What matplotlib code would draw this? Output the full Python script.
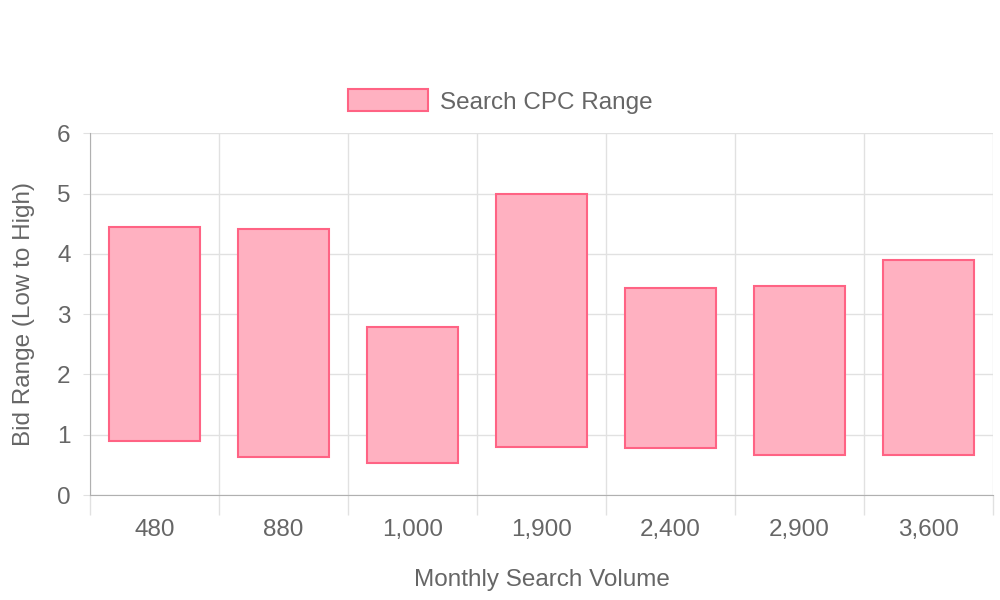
import matplotlib
matplotlib.use("Agg")
from matplotlib import pyplot as plt
from matplotlib.patches import Patch
import numpy as np

plt.rcParams['font.family'] = ['Liberation Sans', 'DejaVu Sans']

volumes = ["480", "880", "1,000", "1,900", "2,400", "2,900", "3,600"]
cpc_low = [0.90, 0.63, 0.53, 0.80, 0.78, 0.66, 0.66]
cpc_high = [4.44, 4.41, 2.79, 5.00, 3.43, 3.47, 3.90]

fill_col = "#FFB1C1"
edge_col = "#FF6384"
text_col = "#666666"
grid_col = "#E1E1E1"
fs = 17.5

fig = plt.figure(figsize=(10, 6), dpi=100)
ax = fig.add_axes([0.09, 0.175, 0.903, 0.603])

x = np.arange(len(volumes))
heights = np.array(cpc_high) - np.array(cpc_low)
ax.bar(x, heights, bottom=cpc_low, width=0.71, color=fill_col,
       edgecolor=edge_col, linewidth=1.5, zorder=3)

ax.set_xlim(-0.5, len(volumes) - 0.5)
ax.set_ylim(0, 6)

# category labels at centres, grid lines at the category edges
ax.set_xticks(x)
ax.set_xticklabels(volumes)
ax.set_xticks(np.arange(-0.5, len(volumes)), minor=True)
ax.tick_params(axis='x', which='major', length=0, pad=17.5, labelsize=fs, labelcolor=text_col)
ax.tick_params(axis='x', which='minor', length=14.5, color=grid_col, width=1)
ax.grid(axis='x', which='minor', color=grid_col, linewidth=1, zorder=0)

ax.set_yticks(range(0, 7))
ax.tick_params(axis='y', length=5, color=grid_col, pad=9, labelsize=fs, labelcolor=text_col)
ax.grid(axis='y', color=grid_col, linewidth=1, zorder=0)

for s in ['top', 'right']:
    ax.spines[s].set_visible(False)
ax.spines['left'].set_color('#B0B0B0')
ax.spines['bottom'].set_color('#B0B0B0')

ax.set_xlabel("Monthly Search Volume", fontsize=fs, color=text_col, labelpad=20)
ax.set_ylabel("Bid Range (Low to High)", fontsize=fs, color=text_col, labelpad=16)

handle = Patch(facecolor=fill_col, edgecolor=edge_col, linewidth=1.5)
fig.legend([handle], ["Search CPC Range"], loc='center', bbox_to_anchor=(0.5, 0.831),
           frameon=False, fontsize=fs, labelcolor=text_col,
           handlelength=3.3, handleheight=1.0, handletextpad=0.5)

fig.savefig("out.png", dpi=100)
